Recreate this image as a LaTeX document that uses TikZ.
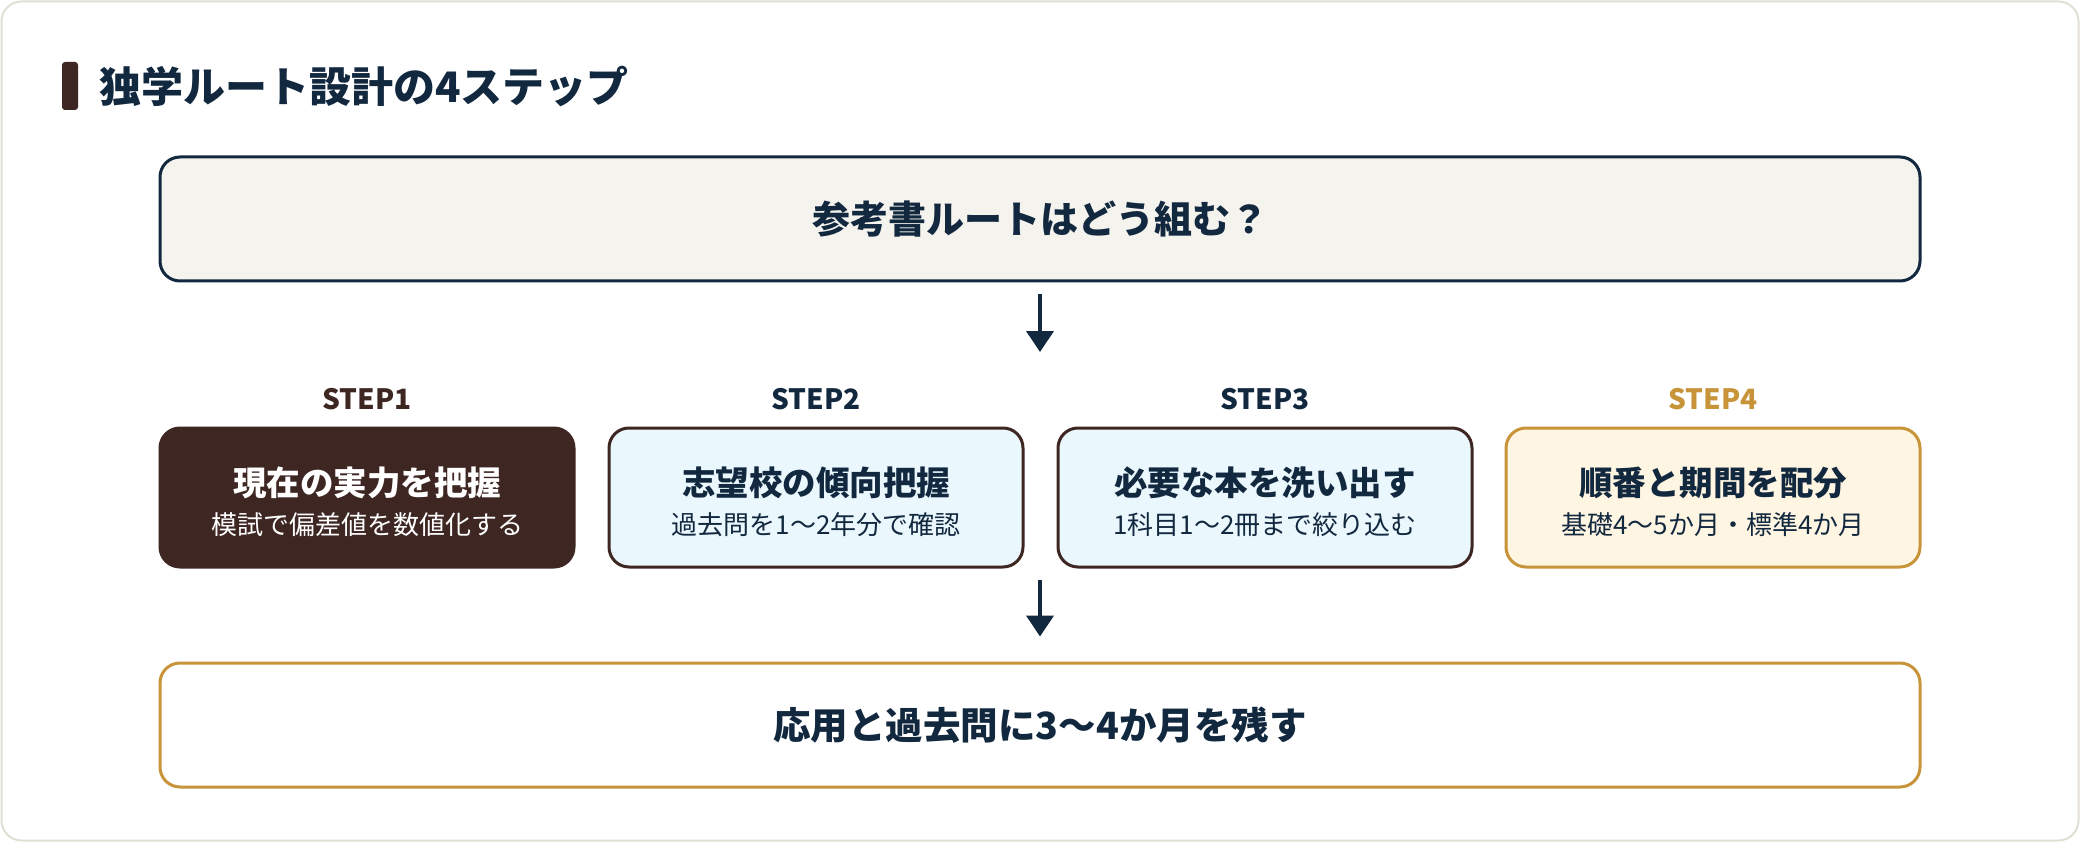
\documentclass[tikz,border=0pt]{standalone}
\usepackage{fontspec}
\setmainfont{Noto Sans CJK JP}
\usetikzlibrary{arrows.meta, calc, positioning}

\definecolor{navy}{HTML}{12283F}
\definecolor{brown}{HTML}{3E2723}
\definecolor{gold}{HTML}{C8943A}
\definecolor{paper}{HTML}{F5F3EE}
\definecolor{ice}{HTML}{EAF7FD}
\definecolor{cream}{HTML}{FFF5E3}
\definecolor{cardline}{HTML}{E2DFD5}

\tikzset{
	stepbox/.style={draw, line width=3pt, rounded corners=20pt, minimum width=414pt, minimum height=139pt, inner sep=0pt},
	widebox/.style={draw, line width=3pt, rounded corners=20pt, minimum width=1760pt, minimum height=124pt, inner sep=0pt},
	flow/.style={line width=4pt, draw=navy, -{Triangle[width=27pt,length=21pt]}},
	steplabel/.style={inner sep=0pt, font=\fontsize{28}{28}\selectfont\bfseries},
	boxtitle/.style={inner sep=0pt, font=\fontsize{33.5}{33.5}\selectfont\bfseries},
	boxsub/.style={inner sep=0pt, font=\fontsize{26}{26}\selectfont},
}

\begin{document}
\begin{tikzpicture}[x=1pt,y=1pt,yscale=-1,xscale=1]
		\useasboundingbox[fill=white] (0,0) rectangle (2080,842);

		%Shape: Card
		\draw [draw=cardline, line width=2pt, fill=white, rounded corners=20pt] (1.5,1.5) rectangle (2078.5,840.5);

		%Shape: Title bar
		\fill [brown, rounded corners=3pt] (62,62) rectangle (78,110);
		% Text Node
		\node (title) [anchor=west, inner sep=0pt, text=navy, font=\fontsize{42}{42}\selectfont\bfseries] at (99,87) {独学ルート設計の4ステップ};

		%Shape: Question
		\node (q) [widebox, draw=navy, fill=paper, text=navy, font=\fontsize{38}{38}\selectfont\bfseries] at (1040,219) {参考書ルートはどう組む？};

		%Shape: Steps
		\node (s1) [stepbox, draw=brown, fill=brown] at (367,497.5) {};
		\node (s2) [stepbox, draw=brown, fill=ice] at (816,497.5) {};
		\node (s3) [stepbox, draw=brown, fill=ice] at (1265,497.5) {};
		\node (s4) [stepbox, draw=gold, fill=cream] at (1713,497.5) {};

		% Text Node
		\node (l1) [steplabel, text=brown, above=16pt of s1] {STEP1};
		\node (l2) [steplabel, text=navy, above=16pt of s2] {STEP2};
		\node (l3) [steplabel, text=navy, above=16pt of s3] {STEP3};
		\node (l4) [steplabel, text=gold, above=16pt of s4] {STEP4};

		% Text Node
		\node (t1) [boxtitle, text=white] at ($(s1.center)+(0,-15)$) {現在の実力を把握};
		\node (u1) [boxsub, text=white] at ($(s1.center)+(0,27)$) {模試で偏差値を数値化する};
		\node (t2) [boxtitle, text=navy] at ($(s2.center)+(0,-15)$) {志望校の傾向把握};
		\node (u2) [boxsub, text=navy] at ($(s2.center)+(0,27)$) {過去問を1〜2年分で確認};
		\node (t3) [boxtitle, text=navy] at ($(s3.center)+(0,-15)$) {必要な本を洗い出す};
		\node (u3) [boxsub, text=navy] at ($(s3.center)+(0,27)$) {1科目1〜2冊まで絞り込む};
		\node (t4) [boxtitle, text=navy] at ($(s4.center)+(0,-15)$) {順番と期間を配分};
		\node (u4) [boxsub, text=navy] at ($(s4.center)+(0,27)$) {基礎4〜5か月・標準4か月};

		%Shape: Goal
		\node (goal) [widebox, draw=gold, fill=white, text=navy, font=\fontsize{37.5}{37.5}\selectfont\bfseries] at (1040,725) {応用と過去問に3〜4か月を残す};

		%Straight Lines
		\coordinate (rowtop) at (1040,352);
		\coordinate (rowend) at (1040,580);
		\draw [flow] ([yshift=12pt]q.south) -- (rowtop);
		\draw [flow] (rowend) -- ([yshift=-25pt]goal.north);

	\end{tikzpicture}
\end{document}
